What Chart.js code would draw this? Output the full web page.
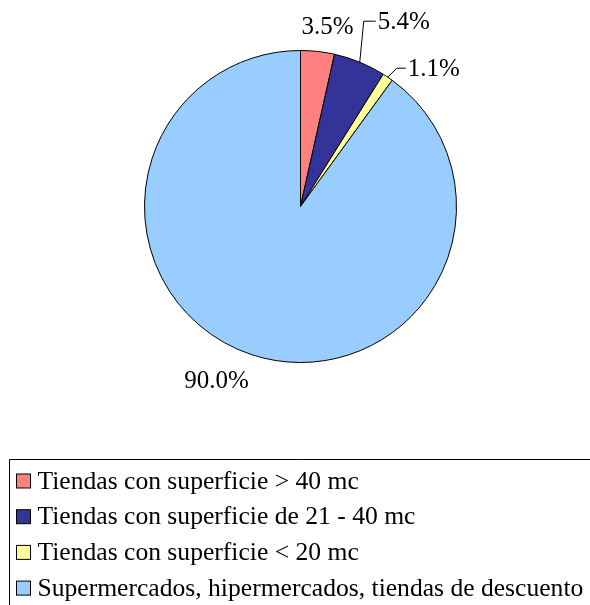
<!DOCTYPE html>
<html>
<head>
<meta charset="utf-8">
<script src="https://cdn.jsdelivr.net/npm/chart.js@4.4.1/dist/chart.umd.min.js"></script>
<style>
  html, body { margin: 0; padding: 0; background: #fff; }
  #wrap { width: 590px; height: 605px; position: relative; }
</style>
</head>
<body>
<div id="wrap"><canvas id="pieChart"></canvas></div>
<script>
/* ---------- DATA ---------- */

const categories = [
  "Tiendas con superficie > 40 mc",
  "Tiendas con superficie de 21 - 40 mc",
  "Tiendas con superficie < 20 mc",
  "Supermercados, hipermercados, tiendas de descuento"
];
const shares = [3.5, 5.4, 1.1, 90.0];
const valueLabels = ["3.5%", "5.4%", "1.1%", "90.0%"];
const sliceColors = ["#FF8080", "#333399", "#FFFF99", "#99CCFF"];

/* ---------- LABEL LAYOUT (offsets from slice edge midpoint) ---------- */

// dx/dy to text start, optional leader elbow
const labelLayout = [
  { dx: -16, dy: -24, leader: null },
  { dx: 18, dy: -40, leader: [4, -41] },
  { dx: 20, dy: -8, leader: [9, -9] },
  { dx: -68, dy: 27, leader: null }
];

const FONT = "'Liberation Serif', 'Times New Roman', serif";

/* ---------- PLUGINS ---------- */

const sliceLabels = {
  id: "sliceLabels",
  afterDatasetsDraw(chart) {
    const ctx = chart.ctx;
    const meta = chart.getDatasetMeta(0);
    ctx.save();
    ctx.font = "25px " + FONT;
    ctx.fillStyle = "#000";
    ctx.strokeStyle = "#000";
    ctx.lineWidth = 1;
    ctx.textBaseline = "middle";
    meta.data.forEach((arc, i) => {
      const p = arc.getProps(["x", "y", "startAngle", "endAngle", "outerRadius"], true);
      const mid = (p.startAngle + p.endAngle) / 2;
      const ax = p.x + Math.cos(mid) * p.outerRadius;
      const ay = p.y + Math.sin(mid) * p.outerRadius;
      const lay = labelLayout[i];
      const tx = ax + lay.dx;
      const ty = ay + lay.dy;
      if (lay.leader) {
        const ex = ax + lay.leader[0];
        const ey = ay + lay.leader[1];
        ctx.beginPath();
        ctx.moveTo(ax, ay);
        ctx.lineTo(ex, ey);
        ctx.lineTo(tx - 2, ey);
        ctx.stroke();
      }
      ctx.textAlign = "left";
      ctx.fillText(valueLabels[i], tx, ty);
    });
    ctx.restore();
  }
};

const boxLegend = {
  id: "boxLegend",
  afterDraw(chart) {
    const ctx = chart.ctx;
    const ds = chart.data.datasets[0];
    ctx.save();
    ctx.strokeStyle = "#000";
    ctx.lineWidth = 1;
    ctx.beginPath();
    ctx.moveTo(9.5, 620);
    ctx.lineTo(9.5, 459.5);
    ctx.lineTo(600, 459.5);
    ctx.stroke();

    ctx.font = "25.6px " + FONT;
    ctx.textBaseline = "middle";
    chart.data.labels.forEach((lab, i) => {
      const cy = 481 + i * 35.7;
      ctx.fillStyle = ds.backgroundColor[i];
      ctx.fillRect(16.5, cy - 7, 14, 14);
      ctx.strokeRect(16.5, cy - 7, 14, 14);
      ctx.fillStyle = "#000";
      ctx.fillText(lab, 37.5, cy + 1);
    });
    ctx.restore();
  }
};

/* ---------- INIT ---------- */

new Chart(document.getElementById("pieChart").getContext("2d"), {
  type: "pie",
  data: {
    labels: categories,
    datasets: [{
      data: shares,
      backgroundColor: sliceColors,
      borderColor: "#000",
      borderWidth: 1
    }]
  },
  options: {
    responsive: true,
    maintainAspectRatio: false,
    animation: false,
    layout: { padding: { left: 144, right: 133, top: 50, bottom: 242 } },
    plugins: {
      legend: { display: false },
      tooltip: { enabled: false }
    }
  },
  plugins: [sliceLabels, boxLegend]
});
</script>
</body>
</html>
